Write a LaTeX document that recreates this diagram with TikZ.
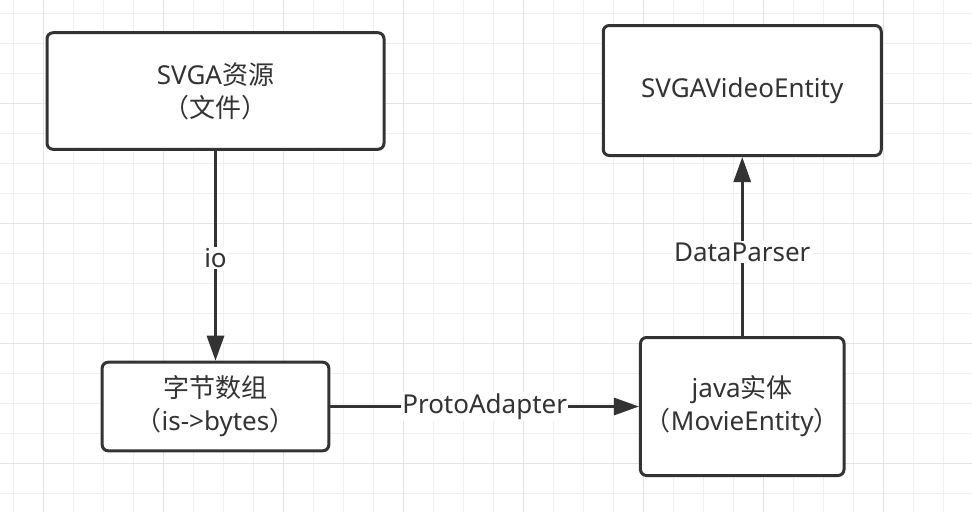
\documentclass[tikz,border=0pt]{standalone}
\usepackage{fontspec}
\setmainfont{Noto Sans}
\newfontfamily\cjk{Noto Sans CJK SC}
\usetikzlibrary{arrows.meta}
\definecolor{ink}{HTML}{333333}
\definecolor{gridminor}{HTML}{F0F0F0}
\definecolor{gridmajor}{HTML}{E4E4E4}
\tikzset{
	box/.style={draw=ink, line width=2.25pt, rounded corners=4.5pt, fill=white, text=ink, align=center},
	link/.style={draw=ink, line width=2.25pt, -{Triangle[length=18.75pt,width=12.75pt]}},
	tag/.style={fill=white, text=ink, inner sep=1pt}
}

\begin{document}
\begin{tikzpicture}[x=0.75pt, y=-0.75pt, font=\fontsize{19.5}{24.75}\selectfont]
	%Background + grid
		\useasboundingbox[fill=white] (0,0) rectangle (972,512);
		\foreach \gx in {13,43,...,973} \draw[gridminor, line width=0.75pt] (\gx,0) -- (\gx,512);
		\foreach \gy in {13,43,...,503} \draw[gridminor, line width=0.75pt] (0,\gy) -- (972,\gy);
		\foreach \gx in {43,163,...,883} \draw[gridmajor, line width=0.75pt] (\gx,0) -- (\gx,512);
		\foreach \gy in {103,223,...,463} \draw[gridmajor, line width=0.75pt] (0,\gy) -- (972,\gy);
	%SVGA file
		\node[box, minimum width=252.75pt, minimum height=87.4pt] (svgafile) at (215.5,91) {SVGA{\cjk 资源}\\{\cjk （文件）}};
	%Video entity
		\node[box, minimum width=208.5pt, minimum height=97.5pt] (videoentity) at (742.25,90.5) {SVGAVideoEntity};
	%Byte array
		\node[box, minimum width=170pt, minimum height=66.4pt] (bytearray) at (215.5,406.5) {{\cjk 字节数组}\\{\cjk （}is->bytes{\cjk ）}};
	%Java entity
		\node[box, minimum width=149pt, minimum height=103.5pt] (javaentity) at (742.25,406.5) {java{\cjk 实体}\\{\cjk （}MovieEntity{\cjk ）}};
	%svgafile->bytearray
		\draw[link] (svgafile) -- node[tag, pos=0.51] {io} (bytearray);
	%bytearray->javaentity
		\draw[link] (bytearray) -- node[tag] {ProtoAdapter} (javaentity);
	%javaentity->videoentity
		\draw[link] (javaentity) -- node[tag, pos=0.47] {DataParser} (videoentity);
\end{tikzpicture}
\end{document}
